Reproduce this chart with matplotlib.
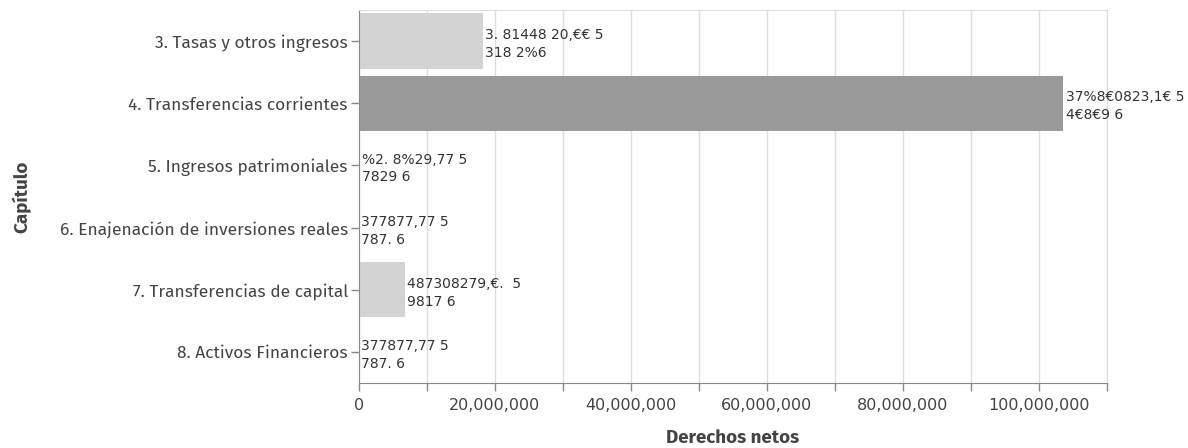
import matplotlib.pyplot as plt
import numpy as np

# Data
capitulos = [
    '3. Tasas y otros ingresos',
    '4. Transferencias corrientes',
    '5. Ingresos patrimoniales',
    '6. Enajenación de inversiones reales',
    '7. Transferencias de capital',
    '8. Activos Financieros',
]
derechos = [18300000, 103600000, 120000, 20000, 6800000, 20000]
colores = ['#d3d3d3', '#9a9a9a', '#d3d3d3', '#d3d3d3', '#d3d3d3', '#d3d3d3']
etiquetas = [
    '3. 81448 20,€€ 5\n318 2%6',
    '37%8€0823,1€ 5\n4€8€9 6',
    '%2. 8%29,77 5\n7829 6',
    '377877,77 5\n787. 6',
    '487308279,€.  5\n9817 6',
    '377877,77 5\n787. 6',
]
xticks = np.arange(0, 110000001, 10000000)

plt.rcParams['font.family'] = ['Fira Sans', 'Open Sans', 'DejaVu Sans']

fig = plt.figure(figsize=(11.88, 4.48), dpi=100)
ax = fig.add_axes([359 / 1188, (448 - 383) / 448, 748 / 1188, 373 / 448])

y = np.arange(len(capitulos))
ax.barh(y, derechos, height=0.89, color=colores, zorder=2)

for yi, v, t in zip(y, derechos, etiquetas):
    ax.text(v + 300000, yi + 0.05, t, va='center', ha='left',
            fontsize=10, family='DejaVu Sans', color='#333333',
            linespacing=1.35, zorder=3)

ax.set_ylim(len(capitulos) - 0.5, -0.5)
ax.set_xlim(0, 110000000)
ax.set_yticks(y)
ax.set_yticklabels(capitulos, fontsize=12.5, color='#444444')
ax.set_xticks(xticks)
ax.set_xticklabels([f'{int(v):,}' if i % 2 == 0 else '' for i, v in enumerate(xticks)],
                   fontsize=11.5, family='DejaVu Sans', color='#444444')
ax.tick_params(axis='both', color='#888888', length=6, width=1)
ax.tick_params(axis='x', pad=5)
ax.tick_params(axis='y', pad=2)

ax.grid(axis='x', color='#dddddd', linewidth=1, zorder=0)
ax.set_axisbelow(True)
for s in ['top', 'right']:
    ax.spines[s].set_color('#dddddd')
for s in ['left', 'bottom']:
    ax.spines[s].set_color('#888888')

ax.set_xlabel('Derechos netos', fontsize=13.5, fontweight='bold', color='#444444', labelpad=11)
ax.set_ylabel('Capítulo', fontsize=13.5, fontweight='bold', color='#444444', labelpad=20)

fig.savefig('out.png', dpi=100)
